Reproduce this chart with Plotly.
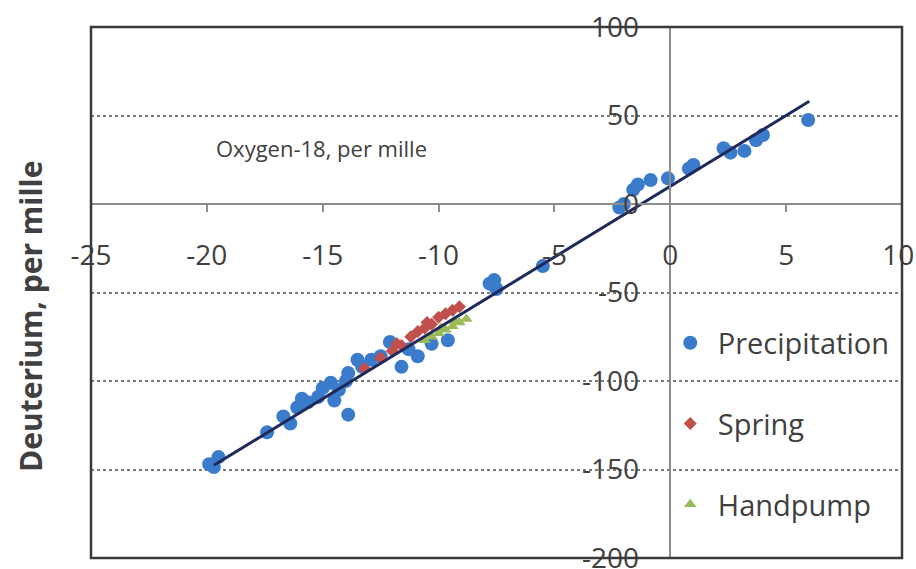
import plotly.graph_objects as go

# ---- data ----
precip_x = [5.95, 4.0, 3.7, 3.2, 2.3, 2.6, 1.0, 0.8, -0.1, -0.85, -1.4, -1.6, -2.2, -2.0,
            -5.5, -7.6, -7.8, -7.5,
            -9.6, -10.3, -10.9, -11.3, -11.6, -12.1, -12.5, -12.9, -13.3, -13.5, -13.9, -13.9,
            -14.0, -14.3, -14.5, -14.65, -15.0, -15.2, -15.65, -15.9, -16.1, -16.4, -16.7,
            -17.4, -19.5, -19.7, -19.9]
precip_y = [47.5, 39, 36, 30, 31.5, 29, 22, 20, 14.5, 13.5, 11, 8, -2, 0,
            -35, -43, -45, -48,
            -77, -79, -86, -82, -92, -78, -86, -88, -92, -88, -95.5, -119,
            -100, -105, -111, -101, -104, -109, -112, -110, -115, -124, -120,
            -129, -143, -148.6, -147]

spring_x = [-13.2, -12.5, -12.0, -11.8, -11.6, -11.2, -10.9, -10.6, -10.5, -10.3, -10.0, -9.7, -9.4, -9.1]
spring_y = [-93, -87, -83, -79, -80, -75, -72, -70, -67, -68, -64, -62, -60, -58]

hand_x = [-10.6, -10.3, -10.0, -9.9, -9.7, -9.4, -9.3, -9.1, -8.8]
hand_y = [-77, -75, -73, -70, -71, -69, -66, -67, -65]

line_x = [-19.7, 6.0]
line_y = [-147.6, 58.0]

x_ticks = [-25, -20, -15, -10, -5, 0, 5, 10]
x_ticklabels = ["-25", "-20", "-15", "-10", "-5", "0", "5",
                "10<span style='color:rgba(255,255,255,0)'>.</span>"]
y_ticks = [-200, -150, -100, -50, 0, 50, 100]
y_ticklabels = ["-200", "-150", "-100", "-50", "0", "50", "100"]

FONT = "Open Sans"
TXT = "#404040"

fig = go.Figure()
fig.add_trace(go.Scatter(x=precip_x, y=precip_y, mode="markers", name="Precipitation",
                         legendgroup="a",
                         marker=dict(symbol="circle", size=14, color="#3B7BCB")))
fig.add_trace(go.Scatter(x=spring_x, y=spring_y, mode="markers", name="Spring",
                         legendgroup="b",
                         marker=dict(symbol="diamond", size=10, color="#C0504D")))
fig.add_trace(go.Scatter(x=hand_x, y=hand_y, mode="markers", name="Handpump",
                         legendgroup="c",
                         marker=dict(symbol="triangle-up", size=11, color="#9BBB59")))
fig.add_trace(go.Scatter(x=line_x, y=line_y, mode="lines", showlegend=False,
                         line=dict(color="#1F2A5A", width=3)))

fig.update_layout(
    width=916, height=569,
    margin=dict(l=91, r=14, t=27, b=11),
    paper_bgcolor="white", plot_bgcolor="white",
    font=dict(family=FONT, color=TXT),
    xaxis=dict(range=[-25, 10], domain=[0, 1], anchor="free", position=200/300,
               tickvals=x_ticks, ticktext=x_ticklabels, automargin=False,
               ticklabeloverflow="allow",
               showline=True, linecolor="#8c8c8c", linewidth=1.5,
               ticks="outside", ticklen=7, tickcolor="#8c8c8c", tickwidth=1.5,
               showgrid=False, zeroline=False, ticklabelstandoff=20,
               tickfont=dict(size=28, color=TXT, family=FONT)),
    yaxis=dict(range=[-200, 100], domain=[0, 1], anchor="free", position=25/35,
               tickvals=y_ticks, ticktext=y_ticklabels, automargin=False,
               ticklabeloverflow="allow",
               showline=True, linecolor="#8c8c8c", linewidth=1.5,
               ticks="", showgrid=True, gridcolor="#7a7a7a", gridwidth=1.5, griddash="dot",
               zeroline=False, ticklabelstandoff=25,
               tickfont=dict(size=28, color=TXT, family=FONT)),
    legend=dict(x=0.705, xanchor="left", y=0.453, yanchor="top",
                bgcolor="rgba(0,0,0,0)", tracegroupgap=40, itemwidth=45,
                font=dict(size=29, color=TXT, family=FONT)),
    shapes=[dict(type="rect", xref="paper", yref="paper", x0=0, x1=1, y0=0, y1=1,
                 line=dict(color="#3a3a3a", width=2.5), layer="above")],
    annotations=[
        dict(text="Oxygen-18, per mille", xref="paper", yref="paper",
             x=(321 - 91) / 811, y=1 - (148 - 27) / 531, xanchor="center", yanchor="middle",
             showarrow=False, font=dict(size=22, color=TXT, family=FONT)),
        dict(text="<b>Deuterium, per mille</b>", xref="paper", yref="paper",
             x=(30 - 91) / 811, y=1 - (317 - 27) / 531, xanchor="center", yanchor="middle",
             textangle=-90, showarrow=False,
             font=dict(size=30, color=TXT, family=FONT)),
    ],
)

# remove the browser's default 8px body margin so the figure fills the window
fig.write_html("out.html",
               config={"displayModeBar": False},
               post_script="document.body.style.margin='0px';document.body.style.overflow='hidden';")
